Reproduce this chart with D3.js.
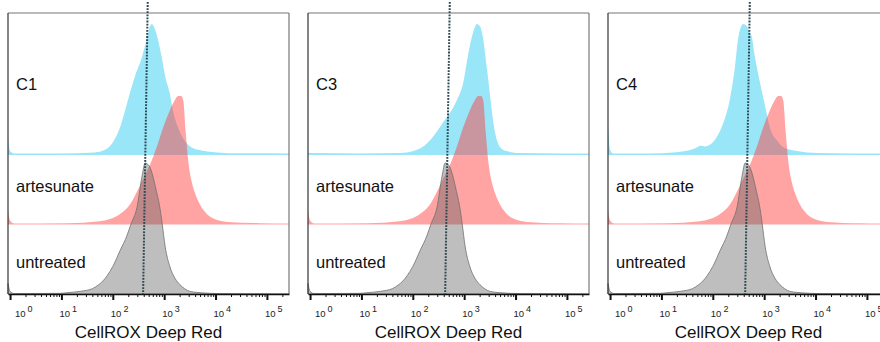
<!DOCTYPE html>
<html>
<head>
<meta charset="utf-8">
<script src="https://cdn.jsdelivr.net/npm/d3@7"></script>
<style>
  html, body { margin: 0; padding: 0; background: #fff; }
  svg { display: block; font-family: "Liberation Sans", Arial, sans-serif; }
</style>
</head>
<body>
<script>
// ---- data (x: log10 of CellROX Deep Red intensity, y: % of mode) ----
const panelNames = ["C1", "C3", "C4"];
const rowNames = ["artesunate", "untreated"];
const decades = [0, 1, 2, 3, 4, 5];

const c1 = [[-0.04,13],[0,3],[0.08,1.2],[0.97,1.2],[1.65,2],[1.85,4],[1.95,7],[2.05,13],[2.14,21],[2.24,34],[2.33,47],[2.43,60],[2.57,75],[2.67,90],[2.72,98],[2.76,100],[2.82,96],[2.88,88],[2.96,73],[3.02,60],[3.11,47],[3.17,34],[3.27,21],[3.44,9],[3.66,4],[4.03,2],[4.47,1.3],[5.43,1.2]];
const c3 = [[-0.04,2],[0.04,1.5],[0.97,1.2],[1.75,1.5],[2.08,4],[2.28,9],[2.47,18],[2.59,25],[2.72,32],[2.86,42],[2.98,55],[3.07,75],[3.17,93],[3.25,100],[3.31,98],[3.35,93],[3.44,67],[3.50,47],[3.56,27],[3.64,11],[3.70,6],[3.83,3],[4.09,1.5],[4.86,1.2],[5.43,1.2]];
const c4 = [[-0.04,24],[0,4],[0.06,1.2],[0.78,1.2],[1.23,2],[1.65,5],[1.77,7],[1.84,6.5],[1.95,8],[2.08,14],[2.20,24],[2.33,42],[2.43,67],[2.49,88],[2.55,98],[2.59,100],[2.67,98],[2.70,95],[2.76,90],[2.82,75],[2.92,55],[3.02,37],[3.11,21],[3.25,11],[3.37,6],[3.64,3],[4.03,1.5],[4.67,1.2],[5.43,1.2]];
const artesunate = [[-0.04,11],[0,3],[0.08,0.8],[1.11,1],[1.75,2.5],[2.14,8],[2.33,15],[2.47,25],[2.59,35],[2.67,41],[2.76,49],[2.88,62],[2.98,74],[3.11,87],[3.21,95],[3.27,98],[3.33,98],[3.37,95],[3.42,70],[3.48,45],[3.54,32],[3.60,24],[3.70,15],[3.83,8],[3.99,4],[4.22,2],[4.86,1],[5.43,0.8]];
const untreated = [[-0.04,8],[0,2],[0.08,0.3],[0.97,0.5],[1.11,1],[1.36,2],[1.60,4],[1.72,7],[1.81,10],[1.89,14],[2.00,21],[2.14,33],[2.28,45],[2.35,53],[2.47,66],[2.57,90],[2.63,100],[2.68,99],[2.72,97],[2.78,90],[2.84,80],[2.92,65],[2.96,54],[3.02,36],[3.11,21],[3.21,12],[3.31,7],[3.40,4],[3.50,2],[3.70,1],[4.09,0.3],[5.43,0]];
const treated = [c1, c3, c4];
// reference (median of untreated) marker, log10 at top and bottom of the line
const markerTop = [2.68, 2.72, 2.72];
const markerBottom = [2.59, 2.63, 2.63];

// ---- layout ----
const W = 880, H = 342;
const panelStep = 300;
const frameTop = 13, axisY = 294;
const baselines = [155, 224.5, 294];

const svg = d3.select("body").append("svg").attr("width", W).attr("height", H);

const x = d3.scaleLog().domain([Math.pow(10, -0.04), Math.pow(10, 5.43)]).range([8, 289]);
const y = d3.scaleLinear().domain([0, 100]).range([0, 131]);

const majors = decades.map(d => Math.pow(10, d));
const minors = [];
for (let k = 0; k <= 5; k++) for (let m = 2; m <= 9; m++) {
  const v = m * Math.pow(10, k);
  if (v <= x.domain()[1]) minors.push(v);
}

function areaFor(base) {
  return d3.area()
    .x(d => x(Math.pow(10, d[0])))
    .y0(base)
    .y1(d => base - y(d[1]))
    .curve(d3.curveMonotoneX);
}

panelNames.forEach((name, i) => {
  const g = svg.append("g").attr("transform", `translate(${panelStep * i},0)`);
  const [x0, x1] = x.range();

  // histograms: treated (top), artesunate, untreated
  g.append("path").datum(treated[i]).attr("d", areaFor(baselines[0]))
    .attr("fill", "#99e6f8");
  g.append("path").datum(artesunate).attr("d", areaFor(baselines[1]))
    .attr("fill", "rgb(255,60,60)").attr("fill-opacity", 0.47);
  g.append("path").datum(untreated).attr("d", areaFor(baselines[2]))
    .attr("fill", "rgb(100,100,100)").attr("fill-opacity", 0.42)
    .attr("stroke", "#707070").attr("stroke-width", 0.8);

  // frame
  g.append("line").attr("x1", x0).attr("x2", x1).attr("y1", frameTop).attr("y2", frameTop)
    .attr("stroke", "#777").attr("stroke-width", 1.2);
  g.append("line").attr("x1", x1).attr("x2", x1).attr("y1", frameTop).attr("y2", axisY)
    .attr("stroke", "#777").attr("stroke-width", 1.2);
  g.append("line").attr("x1", x0).attr("x2", x0).attr("y1", frameTop).attr("y2", axisY)
    .attr("stroke", "#333").attr("stroke-width", 1.2);

  // axis
  const ax = g.append("g").attr("transform", `translate(0,${axisY})`);
  ax.append("g").call(d3.axisBottom(x).tickValues(minors).tickSize(3).tickSizeOuter(0).tickFormat(""))
    .call(s => s.selectAll("line").attr("stroke", "#111").attr("stroke-width", 1))
    .call(s => s.select(".domain").attr("stroke", "#111").attr("stroke-width", 1.3));
  ax.append("g").call(d3.axisBottom(x).tickValues(majors).tickSize(6).tickSizeOuter(0).tickFormat(""))
    .call(s => s.selectAll("line").attr("stroke", "#111").attr("stroke-width", 2))
    .call(s => s.select(".domain").remove());

  // tick labels 10^k
  const lab = g.selectAll(".tl").data(decades).enter().append("text")
    .attr("class", "tl")
    .attr("x", d => Math.max(x(Math.pow(10, d)) - 2, 15))
    .attr("y", 317)
    .attr("font-size", 9.5).attr("fill", "#222");
  lab.append("tspan").text("10");
  lab.append("tspan").attr("dx", 2).attr("dy", -5.5).attr("font-size", 9).text(d => d);

  // marker line
  g.append("line")
    .attr("x1", x(Math.pow(10, markerTop[i]))).attr("y1", 2)
    .attr("x2", x(Math.pow(10, markerBottom[i]))).attr("y2", axisY)
    .attr("stroke", "#2c4852").attr("stroke-width", 2)
    .attr("stroke-dasharray", "1.8,1.3");

  // row labels
  const labelsY = [90, 192, 268];
  [name].concat(rowNames).forEach((t, r) => {
    g.append("text").attr("x", 16).attr("y", labelsY[r])
      .attr("font-size", 16.5).attr("fill", "#111").text(t);
  });

  // axis title
  g.append("text").attr("x", (x0 + x1) / 2).attr("y", 338)
    .attr("text-anchor", "middle").attr("font-size", 17).attr("fill", "#111")
    .text("CellROX Deep Red");
});
</script>
</body>
</html>
